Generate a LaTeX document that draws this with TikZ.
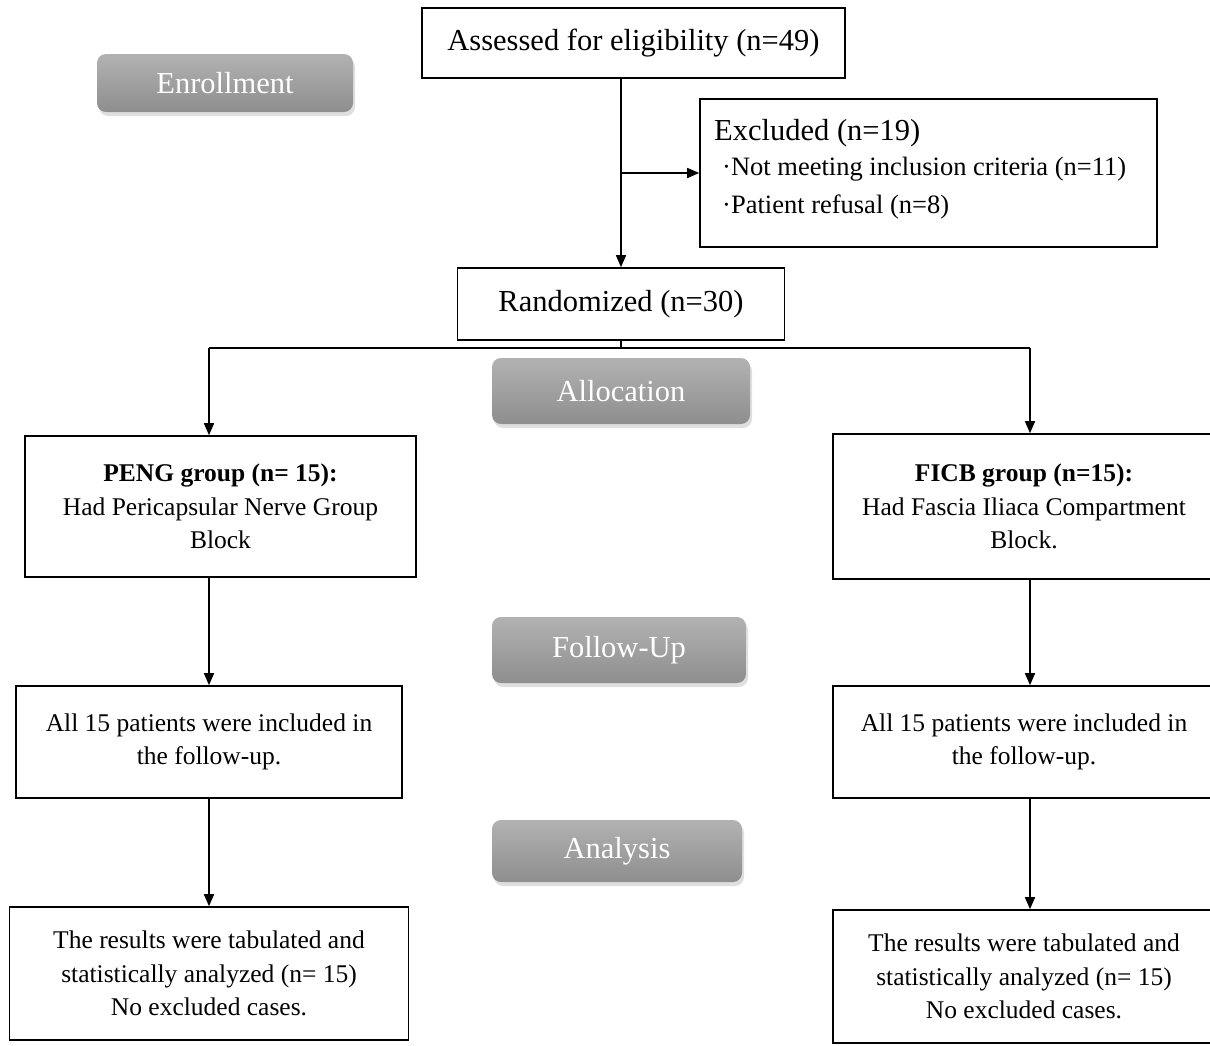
\documentclass[tikz,border=0pt]{standalone}
\usepackage{fontspec}
\setmainfont{Liberation Serif}
\usetikzlibrary{arrows.meta,positioning,calc,shadows}
\definecolor{stagetop}{HTML}{B2B2B2}
\definecolor{stagebot}{HTML}{8E8E8E}
\newcommand{\bigtxt}{\fontsize{30.5}{36}\selectfont}
\newcommand{\boxtxt}{\fontsize{25.5}{33.5}\selectfont}
\tikzset{
    %Define standard arrow tip
    >={Triangle[length=12pt,width=10pt]},
    %Define style for boxes
    box/.style={
           draw,
           line width=1.6pt,
           align=center,
           inner sep=0pt,
           font=\boxtxt},
    %Define style for the grey stage labels
    stage/.style={
           rounded corners=9pt,
           top color=stagetop,
           bottom color=stagebot,
           text=white,
           font=\bigtxt,
           drop shadow={shadow xshift=2pt, shadow yshift=-4pt, opacity=0.25}},
    % Define arrow style
    pil/.style={
           ->,
           line width=1.5pt}
}

\begin{document}
\begin{tikzpicture}[x=1pt,y=-1pt]
	\useasboundingbox (0,0) rectangle (1210,1045);

	% enrollment
	\node[box, font=\bigtxt, minimum width=423pt, minimum height=70pt](assess) at (633.5,43){Assessed for eligibility (n=49)};
	\node[box, minimum width=457pt, minimum height=148pt](excl) at (928.5,173){};
	\node[anchor=west, inner sep=0pt, font=\bigtxt](excl-title) at (714,133){Excluded (n=19)};
	\node[anchor=west, inner sep=0pt, font=\fontsize{26.5}{30}\selectfont](excl-a) at (722,169){·Not meeting inclusion criteria (n=11)};
	\node[anchor=west, inner sep=0pt, font=\fontsize{26.5}{30}\selectfont](excl-b) at (722,207){·Patient refusal (n=8)};
	\node[box, font=\bigtxt, minimum width=327pt, minimum height=72pt](rand) at (621,304){Randomized (n=30)};

	\path[pil] (rand.north |- assess.south) edge (rand.north)
	           (rand.north |- excl.west) edge (excl.west);

	% allocation
	\coordinate (split) at (621,348);
	\coordinate (left-drop) at (209,348);
	\coordinate (right-drop) at (1030,348);

	\node[box, minimum width=391pt, minimum height=141pt](peng) at (220.5,506.5){\textbf{PENG group (n= 15):}\\Had Pericapsular Nerve Group\\Block};
	\node[box, minimum width=382pt, minimum height=145pt](ficb) at (1024,506.5){\textbf{FICB group (n=15):}\\Had Fascia Iliaca Compartment\\Block.};

	\draw[line width=1.5pt] (rand.south) -- (split);
	\draw[line width=1.5pt] (left-drop) -- (right-drop);
	\path[pil] (left-drop) edge (left-drop |- peng.north)
	           (right-drop) edge (right-drop |- ficb.north);

	% follow-up
	\node[box, minimum width=386pt, minimum height=112pt](follow-left) at (209,742){All 15 patients were included in\\the follow-up.};
	\node[box, minimum width=382pt, minimum height=112pt](follow-right) at (1024,742){All 15 patients were included in\\the follow-up.};

	\path[pil] (peng.south -| follow-left.north) edge (follow-left.north)
	           (ficb.south -| right-drop) edge (follow-right.north -| right-drop);

	% analysis
	\node[box, minimum width=399pt, minimum height=133pt](result-left) at (209,973.5){The results were tabulated and\\statistically analyzed (n= 15)\\No excluded cases.};
	\node[box, minimum width=382pt, minimum height=133pt](result-right) at (1024,976.5){The results were tabulated and\\statistically analyzed (n= 15)\\No excluded cases.};

	\path[pil] (follow-left.south) edge (result-left.north)
	           (follow-right.south -| right-drop) edge (result-right.north -| right-drop);

	% stage labels
	\node[stage, minimum width=256pt, minimum height=58pt](enroll) at (225,83){Enrollment};
	\node[stage, minimum width=258pt, minimum height=66pt](alloc) at (621,391){Allocation};
	\node[stage, minimum width=254pt, minimum height=66pt](follow) at (619,650){Follow-Up};
	\node[stage, minimum width=250pt, minimum height=62pt](analysis) at (617,851){Analysis};

\end{tikzpicture}
\end{document}
